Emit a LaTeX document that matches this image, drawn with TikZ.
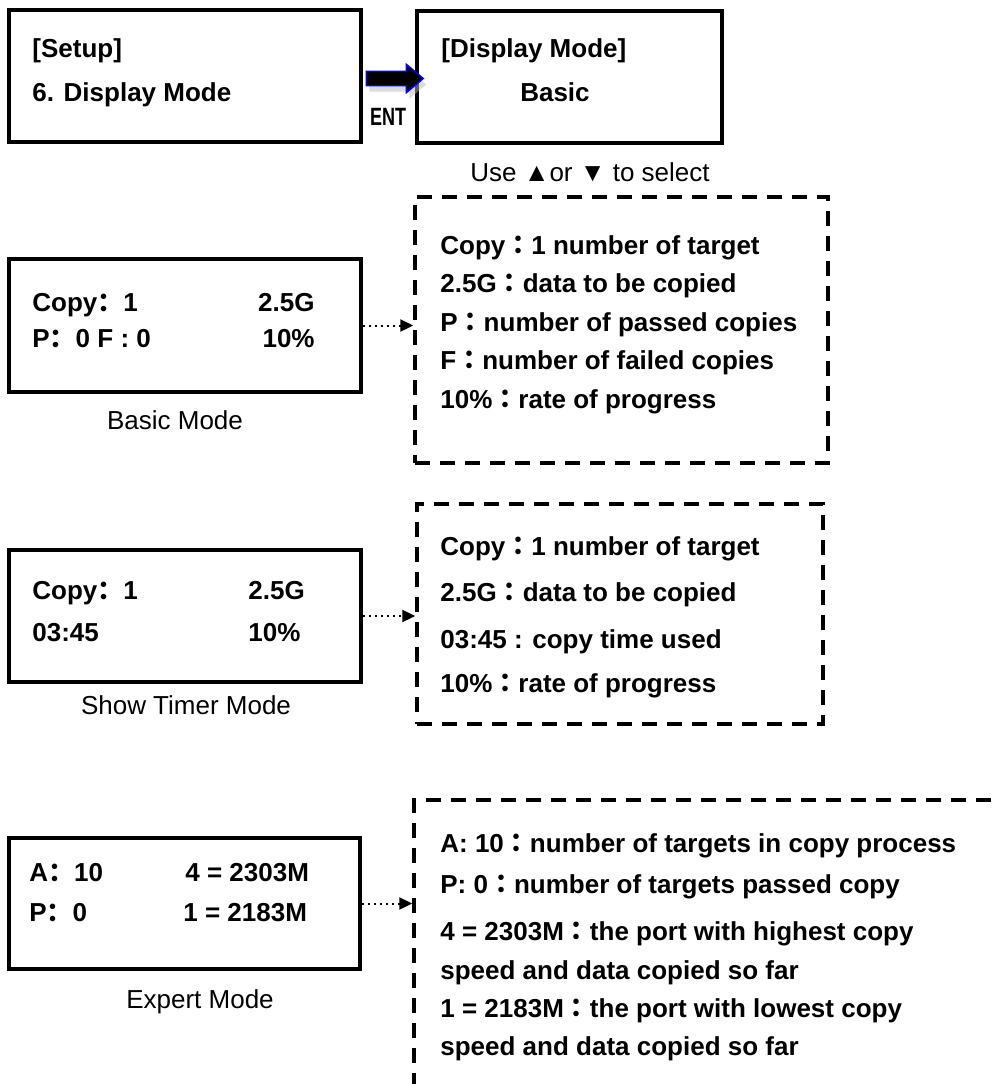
\documentclass[tikz,border=0pt]{standalone}
\usepackage{fontspec}
\setmainfont{Liberation Sans}
\newfontfamily\cjksc{Noto Sans CJK SC}
\newfontfamily\cjktc{Noto Sans CJK TC}
\usetikzlibrary{positioning, arrows.meta, shapes.arrows, shadows}

\newcommand{\lcdcolon}{{\cjksc ：}}
\newcommand{\keycolon}{{\cjktc ：}}

\tikzset{
  lcd/.style={draw, line width=2pt, inner sep=0pt},
  legend/.style={draw, line width=1.7pt, dash pattern=on 7.5pt off 5pt, inner sep=0pt},
  lcdtext/.style={font=\bfseries\fontsize{13}{15}\selectfont, inner sep=0pt, text height=9.3pt, text depth=0pt},
  modename/.style={font=\fontsize{13}{15}\selectfont, inner sep=0pt},
  link/.style={dotted, line width=1pt, -{Triangle[length=6.5pt,width=6pt]}}
}

\begin{document}
\begin{tikzpicture}[x=0.5pt, y=-0.5pt]
\useasboundingbox (0,0) rectangle (998,1084);
\clip (0,0) rectangle (998,1084);

% setup menu and display mode menu
\node[lcd, minimum width=176pt, minimum height=66pt] (setup) at (185,76) {};
\node[lcdtext, anchor=west] (setup1) at (32,48) {[Setup]};
\node[lcdtext, anchor=west] (setup2) at (32,92) {6. Display Mode};

\node[lcd, minimum width=152.5pt, minimum height=66pt] (dispmode) at (569.5,76.5) {};
\node[lcdtext, anchor=west] (dispmode1) at (441,48) {[Display Mode]};
\node[lcdtext] (dispmode2) at (555,92) {Basic};

\node[single arrow, fill=black, draw=blue, line width=0.7pt, minimum height=28.5pt,
      inner xsep=0pt, inner ysep=3.25pt, text height=0pt, text depth=0pt,
      single arrow head extend=3.5pt, single arrow tip angle=80,
      drop shadow={shadow xshift=1.5pt, shadow yshift=-3pt, fill=gray!55}]
      (enter) at (390.5,78.5) {};
\node[font=\bfseries\fontsize{12.5}{14}\selectfont, inner sep=0pt] (entkey) at (388,117) {\scalebox{0.72}[1]{ENT}};

\node[modename] (select) at (590,172) {Use ▲or ▼ to select};

% basic mode
\node[lcd, minimum width=176pt, minimum height=66.5pt] (basic) at (185,325.5) {};
\node[lcdtext, anchor=west] (basic1) at (32,302) {Copy\lcdcolon 1};
\node[lcdtext, anchor=east] (basic2) at (315,302) {2.5G};
\node[lcdtext, anchor=west] (basic3) at (32,338) {P\lcdcolon 0 F : 0};
\node[lcdtext, anchor=east] (basic4) at (315,338) {10\%};
\node[modename] (basiclabel) at (175,420) {Basic Mode};

\node[legend, minimum width=206.5pt, minimum height=133pt] (basicnote) at (621.5,330) {};
\node[lcdtext, anchor=west] (bn1) at (440,245) {Copy\keycolon 1 number of target};
\node[lcdtext, anchor=west] (bn2) at (440,283) {2.5G\keycolon data to be copied};
\node[lcdtext, anchor=west] (bn3) at (440,322) {P\keycolon number of passed copies};
\node[lcdtext, anchor=west] (bn4) at (440,360) {F\keycolon number of failed copies};
\node[lcdtext, anchor=west] (bn5) at (440,399) {10\%\keycolon rate of progress};

\draw[link] (basic.east) -- (basic.east -| basicnote.west);

% show timer mode
\node[lcd, minimum width=176pt, minimum height=66pt] (timer) at (185,616) {};
\node[lcdtext, anchor=west] (timer1) at (32,590) {Copy\lcdcolon 1};
\node[lcdtext, anchor=west] (timer2) at (248,590) {2.5G};
\node[lcdtext, anchor=west] (timer3) at (32,632) {03:45};
\node[lcdtext, anchor=west] (timer4) at (248,632) {10\%};
\node[modename] (timerlabel) at (186,705) {Show Timer Mode};

\node[legend, minimum width=203pt, minimum height=110pt] (timernote) at (620,614) {};
\node[lcdtext, anchor=west] (tn1) at (440,546) {Copy\keycolon 1 number of target};
\node[lcdtext, anchor=west] (tn2) at (440,592) {2.5G\keycolon data to be copied};
\node[lcdtext, anchor=west] (tn3) at (440,639) {03:45 : copy time used};
\node[lcdtext, anchor=west] (tn4) at (440,683) {10\%\keycolon rate of progress};

\draw[link] (timer.east) -- (timer.east -| timernote.west);

% expert mode
\node[lcd, minimum width=175.5pt, minimum height=65.5pt] (expert) at (184.5,903.5) {};
\node[lcdtext, anchor=west] (expert1) at (29,872) {A\lcdcolon 10};
\node[lcdtext, anchor=west] (expert2) at (185,872) {4 = 2303M};
\node[lcdtext, anchor=west] (expert3) at (29,912) {P\lcdcolon 0};
\node[lcdtext, anchor=west] (expert4) at (183,912) {1 = 2183M};
\node[modename] (expertlabel) at (200,1002) {Expert Mode};

\node[legend, minimum width=308pt, minimum height=160pt] (expertnote) at (722,960) {};
\node[lcdtext, anchor=west] (en1) at (440,843) {A: 10\keycolon number of targets in copy process};
\node[lcdtext, anchor=west] (en2) at (440,884) {P: 0\keycolon number of targets passed copy};
\node[lcdtext, anchor=west] (en3) at (440,931) {4 = 2303M\keycolon the port with highest copy};
\node[lcdtext, anchor=west] (en4) at (440,970) {speed and data copied so far};
\node[lcdtext, anchor=west] (en5) at (440,1008) {1 = 2183M\keycolon the port with lowest copy};
\node[lcdtext, anchor=west] (en6) at (440,1046) {speed and data copied so far};

\draw[link] (expert.east) -- (expert.east -| expertnote.west);
\end{tikzpicture}
\end{document}
